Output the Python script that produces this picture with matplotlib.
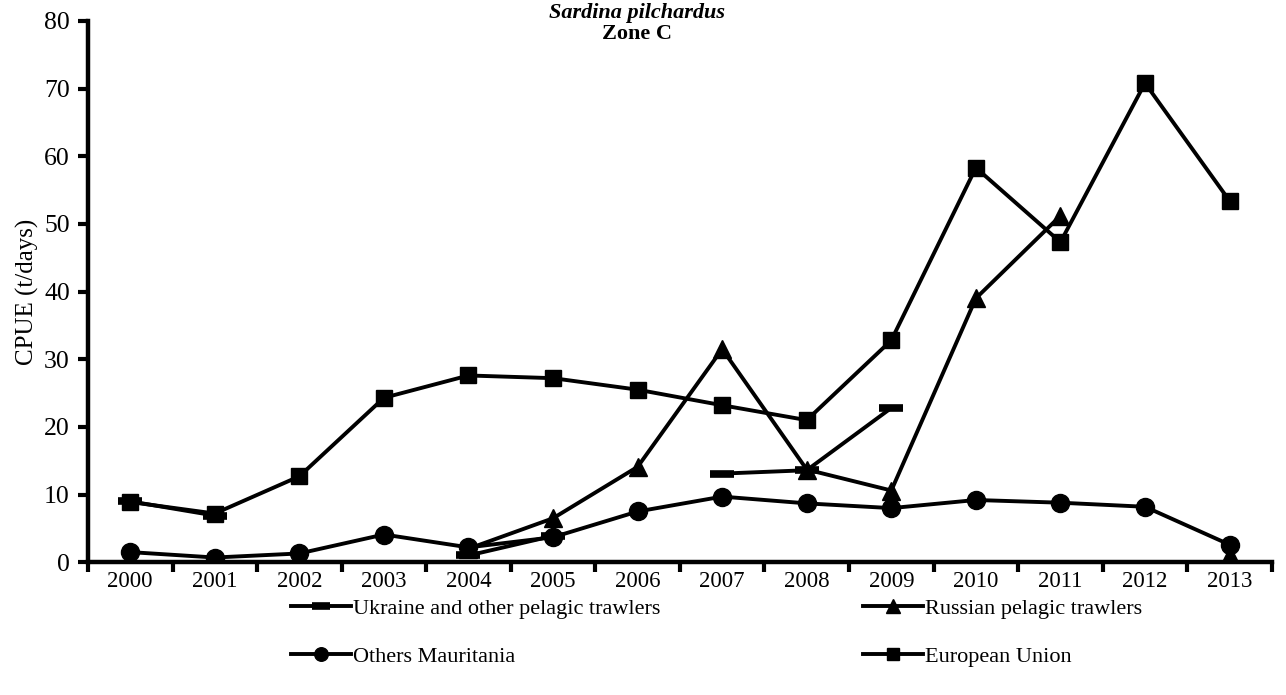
import numpy as np
import matplotlib
matplotlib.use("Agg")
import matplotlib.pyplot as plt
from matplotlib.ticker import FixedLocator

years = ["2000", "2001", "2002", "2003", "2004", "2005", "2006",
         "2007", "2008", "2009", "2010", "2011", "2012", "2013"]
nan = np.nan
ukraine = [9.0, 6.9, nan, nan, 1.0, 3.9, nan, 13.1, 13.6, 22.8, nan, nan, nan, nan]
russian = [nan, nan, nan, nan, 2.0, 6.5, 14.1, 31.5, 13.7, 10.6, 39.0, 51.2, nan, 1.0]
others = [1.5, 0.7, 1.3, 4.1, 2.2, 3.7, 7.5, 9.7, 8.7, 8.0, 9.2, 8.8, 8.2, 2.6]
eu = [8.9, 7.2, 12.7, 24.3, 27.6, 27.2, 25.5, 23.2, 21.0, 32.8, 58.3, 47.3, 70.8, 53.4]

labels = ["Ukraine and other pelagic trawlers", "Russian pelagic trawlers",
          "Others Mauritania", "European Union"]

plt.rcParams['font.family'] = ['Liberation Serif', 'DejaVu Serif']

fig = plt.figure(figsize=(12.86, 6.95), dpi=100)
ax = fig.add_axes([0.0684, 0.191, 0.9206, 0.779])
x = np.arange(len(years))

lw = 2.8
l1, = ax.plot(x, ukraine, color='black', lw=lw, marker='_', ms=17, mew=5.5, label=labels[0])
l2, = ax.plot(x, russian, color='black', lw=lw, marker='^', ms=12.5, label=labels[1])
l3, = ax.plot(x, others, color='black', lw=lw, marker='o', ms=13, label=labels[2])
l4, = ax.plot(x, eu, color='black', lw=lw, marker='s', ms=11, label=labels[3])

ax.set_xlim(-0.5, len(years) - 0.5)
ax.set_ylim(0, 80)
ax.set_yticks(np.arange(0, 81, 10))
ax.set_xticks(x)
ax.set_xticklabels(years, fontsize=16.5)
ax.xaxis.set_minor_locator(FixedLocator(np.arange(-0.5, len(years), 1.0)))
ax.tick_params(axis='x', which='major', length=0, pad=6)
ax.tick_params(axis='x', which='minor', length=7, width=3, direction='out')
ax.tick_params(axis='y', length=7, width=3, direction='out', labelsize=18.5, pad=6)

for s in ['top', 'right']:
    ax.spines[s].set_visible(False)
for s in ['left', 'bottom']:
    ax.spines[s].set_linewidth(3.2)

ax.set_ylabel("CPUE (t/days)", fontsize=18, labelpad=4)

fig.text(0.495, 0.982, "Sardina pilchardus", ha='center', va='center',
         fontsize=16, fontstyle='italic', fontweight='bold')
fig.text(0.495, 0.951, "Zone C", ha='center', va='center',
         fontsize=16, fontweight='bold')

leg = fig.legend(handles=[l1, l3, l2, l4],
                 labels=[labels[0], labels[2], labels[1], labels[3]],
                 ncol=2, loc='upper left',
                 bbox_to_anchor=(0.2193, 0.152), frameon=False, fontsize=16,
                 handlelength=2.7, handletextpad=0.1, columnspacing=9.1,
                 markerscale=0.75, labelspacing=1.23, borderaxespad=0)

fig.savefig("out.png", dpi=100)
